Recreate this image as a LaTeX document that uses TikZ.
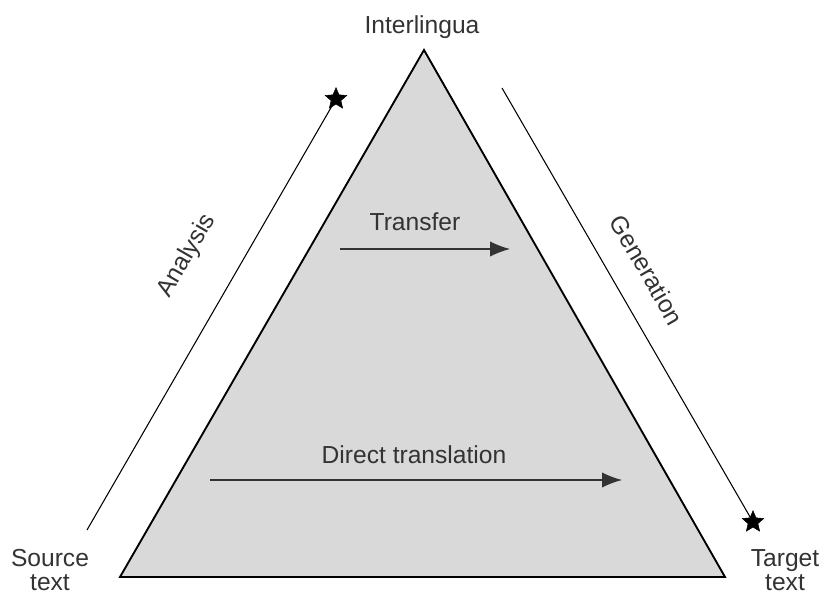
\documentclass[tikz,border=0pt]{standalone}
\usepackage{fontspec}
\setmainfont{Liberation Sans}
\usetikzlibrary{arrows.meta,shapes.geometric}

\begin{document}
\begin{tikzpicture}[x=0.03cm,y=-0.03cm,
    label/.style={font=\fontsize{21}{25}\selectfont,text=black!80,align=center},
    starhead/.style={star,star points=5,star point ratio=2.2,fill=black,draw=black,inner sep=0pt,minimum size=0.68cm},
    flow/.style={-{Latex[length=0.6cm,width=0.46cm]},line width=1pt,black!80}]
  \useasboundingbox (0,0) rectangle (835,595);
  \path
    (424,50)  coordinate (top)
    (120,577) coordinate (bl)
    (725,577) coordinate (br)
    (87,530)  coordinate (a0)
    (502,88)  coordinate (g0)
    (340,249) coordinate (t0)
    (510,249) coordinate (t1)
    (210,480) coordinate (d0)
    (622,480) coordinate (d1);
  \draw[fill=black!15,line width=1.6pt,line join=miter] (top) -- (bl) -- (br) -- cycle;
  \node[starhead] (astar) at (336,99) {};
  \node[starhead] (gstar) at (753,522) {};
  \draw[line width=0.9pt] (a0) -- (astar.center);
  \draw[line width=0.9pt] (g0) -- (gstar.center);
  \draw[flow] (t0) -- (t1);
  \draw[flow] (d0) -- (d1);
  \node[label] (inter)  at (422,27)  {Interlingua};
  \node[label] (source) at (50,570)  {Source\\[-4pt]text};
  \node[label] (target) at (785,570) {Target\\[-4pt]text};
  \node[label] (trans)  at (415,222) {Transfer};
  \node[label] (direct) at (414,455) {Direct translation};
  \node[label,rotate=60]  (anal) at (187,256) {Analysis};
  \node[label,rotate=-60] (gen)  at (647,270) {Generation};
\end{tikzpicture}
\end{document}
